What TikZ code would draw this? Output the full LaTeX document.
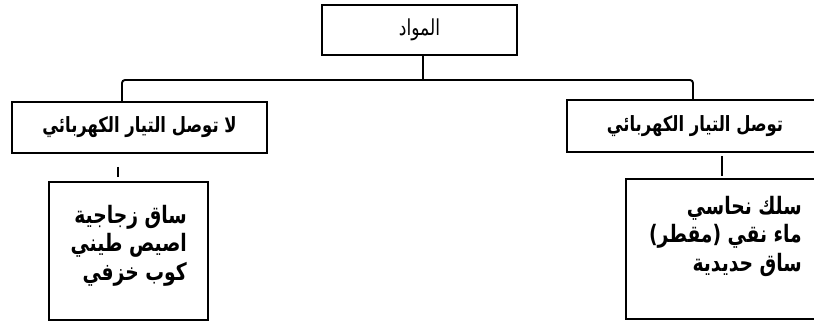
\documentclass[tikz,border=0pt]{standalone}
\usepackage{fontspec}
\newfontfamily\arabicfont[Script=Arabic, FakeStretch=0.78]{DejaVu Sans}
\TeXXeTstate=1
\usetikzlibrary{positioning}

\tikzset{
    box/.style={draw, line width=1.9pt, inner sep=0pt},
    link/.style={line width=1.9pt},
    title/.style={font=\arabicfont\fontsize{22}{26}\selectfont},
    heading/.style={font=\arabicfont\bfseries\fontsize{21}{25}\selectfont},
    items/.style={font=\arabicfont\bfseries\fontsize{24}{28.5}\selectfont, align=right, inner sep=0pt, anchor=north east}
}

\begin{document}
\begin{tikzpicture}[x=1pt, y=-1pt]
    \useasboundingbox (0,0) rectangle (814,321);

    % Root
    \node[box, title, minimum width=195pt, minimum height=50pt] (mat) at (419.5,30) {\beginR المواد\endR};

    % Two groups
    \node[box, heading, minimum width=255pt, minimum height=51pt] (nc) at (139.5,127.5) {\beginR لا توصل التيار الكهربائي\endR};
    \node[box, heading, minimum width=256pt, minimum height=52pt] (co) at (695,126) {\beginR توصل التيار الكهربائي\endR};

    % Lists
    \node[box, minimum width=159pt, minimum height=138pt] (ncList) at (128.5,251) {};
    \node[box, minimum width=224pt, minimum height=140pt] (coList) at (738,249) {};
    \node[items] (ncText) at (187,205) {\beginR ساق زجاجية\endR\\ \beginR اصيص طيني\endR\\ \beginR كوب خزفي\endR};
    \node[items] (coText) at (802,196) {\beginR سلك نحاسي\endR\\ \beginR ماء نقي (مقطر)\endR\\ \beginR ساق حديدية\endR};

    % Tree lines
    \coordinate (bar) at (423,80);
    \coordinate (ncx) at (122,0);
    \coordinate (cox) at (693,0);
    \draw[link] (bar |- mat.south) -- (bar);
    \draw[link, rounded corners=3pt] (nc.north -| ncx) -- (bar -| ncx) -- (bar -| cox) -- (co.north -| cox);

    % Short links to the lists
    \coordinate (ncy) at (118,0);
    \coordinate (coy) at (722,0);
    \draw[link, shorten <=13pt, shorten >=4pt] (nc.south -| ncy) -- (ncList.north -| ncy);
    \draw[link, shorten <=3pt, shorten >=2pt] (co.south -| coy) -- (coList.north -| coy);
\end{tikzpicture}
\end{document}
